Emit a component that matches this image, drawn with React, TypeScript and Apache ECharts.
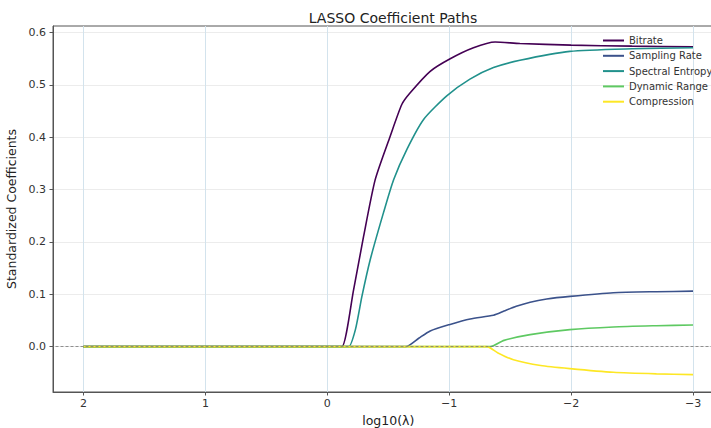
import React, { useEffect, useRef } from "react";
import * as echarts from "echarts";

const title = "LASSO Coefficient Paths";
const xTicks = [2, 1, 0, -1, -2, -3];
const yTicks = [0, 0.1, 0.2, 0.3, 0.4, 0.5, 0.6];

const seriesNames = ["Bitrate", "Sampling Rate", "Spectral Entropy", "Dynamic Range", "Compression"];
const colors = ["#440154", "#3b528b", "#21918c", "#5ec962", "#fde725"];

const bitrateX = [2, -0.06, -0.12, -0.216, -0.298, -0.393, -0.516, -0.612, -0.68, -0.844, -1.008, -1.199, -1.377, -1.58, -2.0, -2.5, -3.0];
const bitrateY = [0, 0, 0, 0.109, 0.211, 0.319, 0.402, 0.463, 0.485, 0.526, 0.55, 0.571, 0.582, 0.579, 0.576, 0.574, 0.573];

const samplingX = [2, -0.6, -0.645, -0.75, -0.844, -1.0, -1.172, -1.363, -1.45, -1.55, -1.664, -1.8, -1.992, -2.347, -2.7, -3.0];
const samplingY = [0, 0, 0, 0.016, 0.03, 0.042, 0.053, 0.06, 0.068, 0.077, 0.085, 0.091, 0.096, 0.103, 0.105, 0.106];

const spectralX = [2, -0.13, -0.175, -0.23, -0.284, -0.352, -0.461, -0.544, -0.653, -0.79, -0.98, -1.17, -1.363, -1.58, -1.99, -2.5, -3.0];
const spectralY = [0, 0, 0, 0.032, 0.096, 0.166, 0.256, 0.319, 0.377, 0.434, 0.479, 0.511, 0.533, 0.547, 0.564, 0.569, 0.571];

const dynamicX = [2, -1.29, -1.336, -1.45, -1.664, -1.99, -2.347, -2.7, -3.0];
const dynamicY = [0, 0, 0, 0.012, 0.023, 0.0325, 0.0376, 0.04, 0.0415];

const compressionX = [2, -1.26, -1.309, -1.4, -1.527, -1.75, -1.99, -2.347, -2.7, -3.0];
const compressionY = [0, 0, 0, -0.012, -0.025, -0.036, -0.042, -0.049, -0.052, -0.0535];

const allX = [bitrateX, samplingX, spectralX, dynamicX, compressionX];
const allY = [bitrateY, samplingY, spectralY, dynamicY, compressionY];

const FONT = "DejaVu Sans";

export default function App() {
  const ref = useRef<HTMLDivElement>(null);
  useEffect(() => {
    if (!ref.current) return;
    const chart = echarts.init(ref.current, undefined, { renderer: "svg" });
    const series: any[] = seriesNames.map((name, i) => ({
      name,
      type: "line",
      data: allX[i].map((x, j) => [x, allY[i][j]]),
      showSymbol: false,
      symbol: "none",
      smooth: 0.22,
      lineStyle: { color: colors[i], width: 1.6 },
      itemStyle: { color: colors[i] },
      z: 3 + i,
      silent: true,
    }));
    series[4].markLine = {
      silent: true,
      symbol: "none",
      label: { show: false },
      lineStyle: { color: "#777", type: [3, 2], width: 0.8 },
      data: [{ yAxis: 0 }],
      z: 20,
    };
    const fmtX = (v: number) => (v < 0 ? "\u2212" + Math.abs(v) : String(v));
    chart.setOption({
      animation: false,
      backgroundColor: "#fff",
      title: {
        text: title,
        left: 388,
        top: 6,
        textAlign: "center",
        textStyle: { fontFamily: FONT, fontSize: 14, fontWeight: "normal", color: "#222" },
      },
      legend: {
        orient: "vertical",
        left: 598,
        top: 29,
        itemWidth: 21,
        itemHeight: 2,
        itemGap: 2.3,
        icon: "rect",
        data: seriesNames,
        textStyle: { fontFamily: FONT, fontSize: 10, color: "#333", lineHeight: 13 },
        selectedMode: false,
      },
      grid: {
        left: 53,
        top: 26,
        width: 670.5,
        height: 366,
        outerBoundsMode: "none",
        containLabel: false,
        show: true,
        borderColor: "#555",
        borderWidth: 1,
        backgroundColor: "transparent",
      },
      xAxis: {
        type: "value",
        inverse: true,
        min: -3.25,
        max: 2.25,
        name: "log10(\u03bb)",
        nameLocation: "middle",
        nameGap: 20,
        nameTextStyle: { fontFamily: FONT, fontSize: 12.5, color: "#222" },
        axisLine: { show: true, onZero: false, lineStyle: { color: "#555", width: 1 } },
        axisTick: { show: true, length: 3.5, customValues: xTicks, lineStyle: { color: "#555" } },
        axisLabel: {
          customValues: xTicks,
          formatter: fmtX,
          fontFamily: FONT,
          fontSize: 11,
          color: "#333",
          margin: 6,
        },
        splitLine: { show: true, lineStyle: { color: "#d3e3ed", width: 1 } },
      },
      yAxis: {
        type: "value",
        min: -0.0866,
        max: 0.6125,
        name: "Standardized Coefficients",
        nameLocation: "middle",
        nameGap: 31,
        nameTextStyle: { fontFamily: FONT, fontSize: 12.5, color: "#222" },
        axisLine: { show: true, onZero: false, lineStyle: { color: "#555", width: 1 } },
        axisTick: { show: true, length: 3.5, customValues: yTicks, lineStyle: { color: "#555" } },
        axisLabel: {
          customValues: yTicks,
          formatter: (v: number) => v.toFixed(1),
          fontFamily: FONT,
          fontSize: 11,
          color: "#333",
          margin: 7,
        },
        splitLine: { show: true, lineStyle: { color: "#ececec", width: 1 } },
      },
      series,
    });
    return () => chart.dispose();
  }, []);
  return (
    <div
      ref={ref}
      style={{ position: "fixed", left: 0, top: 0, width: 711, height: 428 }}
    />
  );
}
